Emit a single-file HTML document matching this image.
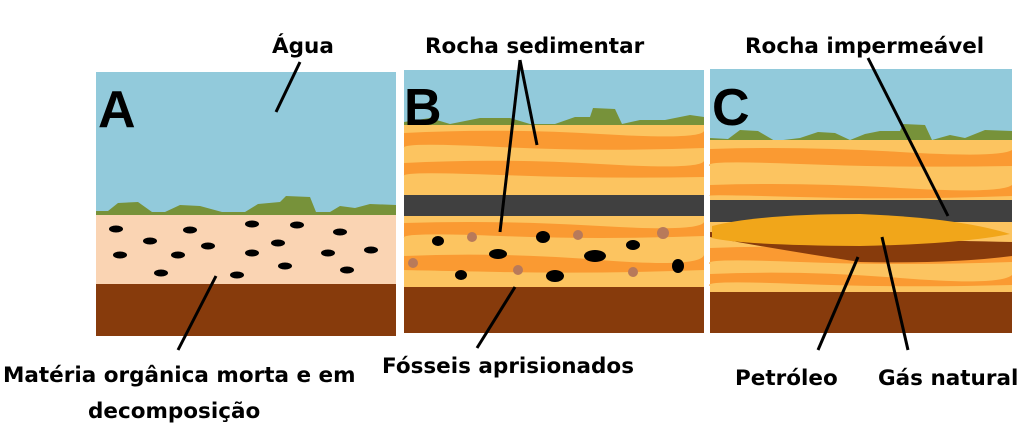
<!DOCTYPE html>
<html><head><meta charset="utf-8"><style>
html,body{margin:0;padding:0;background:#fff;}
svg{display:block;}
text{font-family:"DejaVu Sans","Liberation Sans",sans-serif;font-weight:bold;fill:#000;}
</style></head><body>
<svg width="1024" height="441" viewBox="0 0 1024 441" xmlns="http://www.w3.org/2000/svg">
<!-- Panel A -->
<rect x="96" y="72" width="300" height="143" fill="#92cadb"/>
<path d="M96 215 L96 211 L108 211 L118 203 L138 202 L152 212 L165 212 L180 205 L200 206 L222 212 L245 212 L258 204 L280 202 L286 196 L310 197 L316 212 L330 212 L340 206 L355 208 L370 204 L396 205 L396 215Z" fill="#77923a"/>
<rect x="96" y="215" width="300" height="69" fill="#fad4b3"/>
<rect x="96" y="284" width="300" height="52" fill="#873b0c"/>
<g fill="#000">
<ellipse cx="116" cy="229" rx="7" ry="3.5"/><ellipse cx="190" cy="230" rx="7" ry="3.5"/><ellipse cx="252" cy="224" rx="7" ry="3.5"/><ellipse cx="297" cy="225" rx="7" ry="3.5"/><ellipse cx="340" cy="232" rx="7" ry="3.5"/><ellipse cx="150" cy="241" rx="7" ry="3.5"/><ellipse cx="208" cy="246" rx="7" ry="3.5"/><ellipse cx="278" cy="243" rx="7" ry="3.5"/><ellipse cx="120" cy="255" rx="7" ry="3.5"/><ellipse cx="178" cy="255" rx="7" ry="3.5"/><ellipse cx="252" cy="253" rx="7" ry="3.5"/><ellipse cx="328" cy="253" rx="7" ry="3.5"/><ellipse cx="371" cy="250" rx="7" ry="3.5"/><ellipse cx="161" cy="273" rx="7" ry="3.5"/><ellipse cx="237" cy="275" rx="7" ry="3.5"/><ellipse cx="285" cy="266" rx="7" ry="3.5"/><ellipse cx="347" cy="270" rx="7" ry="3.5"/>
</g>
<text x="98" y="127" font-size="52" style="font-family:'Liberation Sans',sans-serif">A</text>
<!-- Panel B -->
<rect x="404" y="70" width="300" height="56" fill="#92cadb"/>
<path d="M404 126 L404 122 L430 118 L450 124 L480 118 L510 118 L530 124 L555 124 L575 117 L590 117 L593 108 L615 109 L622 124 L640 120 L665 120 L690 115 L704 117 L704 126Z" fill="#77923a"/>
<rect x="404" y="125" width="300" height="70" fill="#fcc460"/>
<path d="M404 133 Q500 128 600 134 T704 131 L704 148 Q600 152 500 147 T404 148Z" fill="#fa9a32"/>
<path d="M404 163 Q500 158 600 164 T704 161 L704 177 Q600 179 500 175 T404 176Z" fill="#fa9a32"/>
<rect x="404" y="195" width="300" height="21" fill="#404040"/>
<rect x="404" y="216" width="300" height="71" fill="#fcc460"/>
<path d="M404 223 Q500 220 600 226 T704 222 L704 236 Q600 240 500 236 T404 238Z" fill="#fa9a32"/>
<path d="M404 256 Q500 252 600 260 T704 255 L704 270 Q600 274 500 272 T404 270Z" fill="#fa9a32"/>
<rect x="404" y="287" width="300" height="46" fill="#873b0c"/>
<g fill="#b87a5a"><circle cx="472" cy="237" r="5"/><circle cx="578" cy="235" r="5"/><circle cx="663" cy="233" r="6"/><circle cx="413" cy="263" r="5"/><circle cx="518" cy="270" r="5"/><circle cx="633" cy="272" r="5"/></g>
<g fill="#000"><ellipse cx="438" cy="241" rx="6" ry="5"/><ellipse cx="543" cy="237" rx="7" ry="6"/><ellipse cx="633" cy="245" rx="7" ry="5"/><ellipse cx="498" cy="254" rx="9" ry="5"/><ellipse cx="595" cy="256" rx="11" ry="6"/><ellipse cx="678" cy="266" rx="6" ry="7"/><ellipse cx="461" cy="275" rx="6" ry="5"/><ellipse cx="555" cy="276" rx="9" ry="6"/></g>
<text x="404" y="125" font-size="52" style="font-family:'Liberation Sans',sans-serif">B</text>
<!-- Panel C -->
<rect x="710" y="69" width="302" height="72" fill="#92cadb"/>
<path d="M710 141 L710 138 L728 139 L740 130 L758 131 L775 141 L800 138 L818 132 L835 133 L850 140 L865 134 L880 131 L900 131 L903 124 L925 125 L932 140 L950 135 L965 138 L985 130 L1012 131 L1012 141Z" fill="#77923a"/>
<rect x="710" y="140" width="302" height="152" fill="#fcc460"/>
<path d="M710 149 Q800 146 900 152 T1012 150 L1012 166 Q900 168 800 164 T710 166Z" fill="#fa9a32"/>
<path d="M710 185 Q800 182 900 188 T1012 185 L1012 196 Q900 200 800 197 T710 196Z" fill="#fa9a32"/>
<path d="M710 248 Q800 244 900 252 T1012 250 L1012 262 Q900 266 800 262 T710 264Z" fill="#fa9a32"/>
<path d="M710 274 Q800 270 900 278 T1012 275 L1012 285 Q900 288 800 284 T710 286Z" fill="#fa9a32"/>
<rect x="710" y="200" width="302" height="22" fill="#404040"/>
<path d="M710 237 Q780 250 860 262 Q950 264 1012 256 L1012 242 Q900 240 710 232Z" fill="#873b0c"/>
<path d="M712 226 Q760 214 860 214 Q960 218 1010 234 Q960 244 860 246 Q740 245 712 238 Z" fill="#f1a61a"/>
<rect x="710" y="292" width="302" height="41" fill="#873b0c"/>
<text x="712" y="125" font-size="52" style="font-family:'Liberation Sans',sans-serif">C</text>
<!-- connectors -->
<g stroke="#000" stroke-width="3" fill="none">
<line x1="300" y1="62" x2="276" y2="112"/>
<line x1="520" y1="60" x2="500" y2="232"/>
<line x1="520" y1="60" x2="537" y2="145"/>
<line x1="515" y1="287" x2="477" y2="348"/>
<line x1="216" y1="276" x2="178" y2="350"/>
<line x1="868" y1="58" x2="948" y2="216"/>
<line x1="858" y1="257" x2="818" y2="350"/>
<line x1="882" y1="237" x2="908" y2="350"/>
</g>
<!-- labels -->
<text x="272" y="53" font-size="21.5">Água</text>
<text x="425" y="53" font-size="21.5">Rocha sedimentar</text>
<text x="745" y="53" font-size="21.5">Rocha impermeável</text>
<text x="3" y="382" font-size="21.5">Matéria orgânica morta e em</text>
<text x="88" y="418" font-size="21.5">decomposição</text>
<text x="382" y="373" font-size="21.5">Fósseis aprisionados</text>
<text x="735" y="385" font-size="21.5">Petróleo</text>
<text x="878" y="385" font-size="21.5">Gás natural</text>
</svg>
</body></html>
